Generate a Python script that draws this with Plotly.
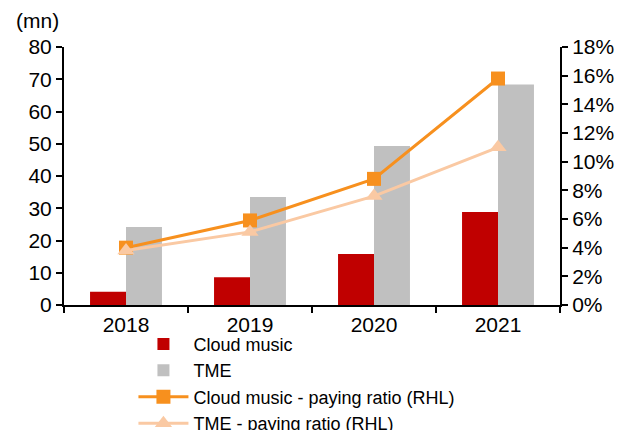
import plotly.graph_objects as go

years = ["2018", "2019", "2020", "2021"]
cloud_users = [4.1, 8.6, 15.8, 28.8]
tme_users = [24.2, 33.5, 49.3, 68.4]
cloud_ratio = [4.0, 5.9, 8.8, 15.8]
tme_ratio = [3.8, 5.1, 7.6, 11.0]

FONT = "Liberation Sans, Arial, sans-serif"

fig = go.Figure()
fig.add_trace(go.Bar(x=years, y=cloud_users, name="Cloud music",
                     marker_color="#C00000", marker_line_width=0))
fig.add_trace(go.Bar(x=years, y=tme_users, name="TME",
                     marker_color="#C0C0C0", marker_line_width=0))
fig.add_trace(go.Scatter(x=years, y=cloud_ratio, yaxis="y2",
                         name="Cloud music - paying ratio (RHL)",
                         mode="lines+markers",
                         line=dict(color="#F7901E", width=3),
                         marker=dict(symbol="square", size=14, color="#F7901E")))
fig.add_trace(go.Scatter(x=years, y=tme_ratio, yaxis="y2",
                         name="TME - paying ratio (RHL)",
                         mode="lines+markers",
                         line=dict(color="#FAC9A3", width=3),
                         marker=dict(symbol="triangle-up", size=15, color="#FAC9A3")))

# page body has an 8px margin, so the figure is shrunk by that much
fig.update_layout(
    width=630, height=422,
    margin=dict(l=56, r=78, t=39, b=125, autoexpand=False),
    paper_bgcolor="white", plot_bgcolor="white",
    font=dict(family=FONT, size=21, color="black"),
    barmode="group", bargap=0.42, bargroupgap=0,
    showlegend=True,
    legend=dict(x=0.14, y=0.247, yref="container", xanchor="left", yanchor="top",
                traceorder="normal", font=dict(size=18), itemwidth=50,
                tracegroupgap=0, bgcolor="rgba(0,0,0,0)"),
    xaxis=dict(type="category", showline=True, linecolor="black", linewidth=2,
               ticks="outside", tickson="boundaries", ticklen=6, tickwidth=2,
               tickcolor="black", showgrid=False),
    yaxis=dict(range=[0, 80], dtick=10, showline=True, linecolor="black",
               linewidth=2, ticks="outside", ticklen=6, tickwidth=2,
               tickcolor="black", showgrid=False, zeroline=False),
    yaxis2=dict(range=[0, 18], dtick=2, overlaying="y", side="right",
                ticksuffix="%", showline=True, linecolor="black", linewidth=2,
                ticks="outside", ticklen=6, tickwidth=2, tickcolor="black",
                showgrid=False, zeroline=False),
    annotations=[dict(text="(mn)", xref="paper", yref="paper", x=-0.1, y=1.05,
                      xanchor="left", yanchor="bottom", showarrow=False,
                      font=dict(size=21))],
)

fig.write_html("out.html")
